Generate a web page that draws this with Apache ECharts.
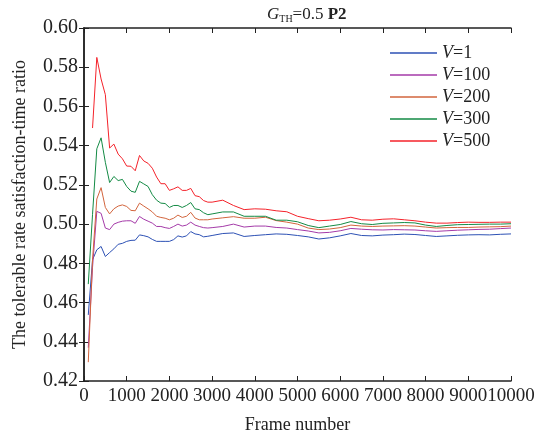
<!DOCTYPE html>
<html>
<head>
<meta charset="utf-8">
<script src="https://cdn.jsdelivr.net/npm/echarts@6/dist/echarts.min.js"></script>
<style>
  html, body { margin: 0; padding: 0; background: #fff; }
  #main { width: 543px; height: 439px; }
</style>
</head>
<body>
<div id="main"></div>
<script>
// frame numbers (x)
var frames = [100, 200, 300, 400, 500, 600, 700, 800, 900, 1000,
  1100, 1200, 1300, 1400, 1500, 1600, 1700, 1800, 1900, 2000,
  2100, 2200, 2300, 2400, 2500, 2600, 2700, 2800, 2900, 3000,
  3250, 3500, 3750, 4000, 4250, 4500, 4750, 5000, 5250, 5500,
  5750, 6000, 6250, 6500, 6750, 7000, 7250, 7500, 7750, 8000,
  8250, 8500, 8750, 9000, 9250, 9500, 9750, 10000];

var v1 = [0.4537, 0.4818, 0.4869, 0.4886, 0.4835, 0.4855, 0.4874, 0.4897, 0.4902, 0.4912,
  0.4917, 0.4918, 0.4945, 0.4941, 0.4935, 0.4922, 0.4912, 0.4912, 0.4912, 0.4912,
  0.4921, 0.4940, 0.4934, 0.4940, 0.4962, 0.4950, 0.4946, 0.4935, 0.4938, 0.4942,
  0.4952, 0.4955, 0.4937, 0.4942, 0.4946, 0.4950, 0.4948, 0.4942, 0.4935, 0.4924,
  0.4930, 0.4940, 0.4952, 0.4942, 0.4940, 0.4944, 0.4946, 0.4949, 0.4947, 0.4942,
  0.4937, 0.4940, 0.4943, 0.4945, 0.4946, 0.4945, 0.4948, 0.4950];

var v100 = [0.4370, 0.4780, 0.5065, 0.5055, 0.4980, 0.4972, 0.5000, 0.5009, 0.5015, 0.5017,
  0.5017, 0.5004, 0.5039, 0.5025, 0.5015, 0.5005, 0.4988, 0.4988, 0.4982, 0.4978,
  0.4988, 0.5000, 0.4990, 0.4995, 0.5010, 0.4995, 0.4988, 0.4982, 0.4980, 0.4982,
  0.4988, 0.5000, 0.4985, 0.4990, 0.4990, 0.4983, 0.4980, 0.4972, 0.4965, 0.4955,
  0.4958, 0.4966, 0.4978, 0.4974, 0.4971, 0.4970, 0.4972, 0.4971, 0.4970, 0.4966,
  0.4963, 0.4966, 0.4969, 0.4971, 0.4973, 0.4974, 0.4977, 0.4980];

var v200 = [0.4296, 0.4820, 0.5128, 0.5186, 0.5085, 0.5052, 0.5078, 0.5092, 0.5098, 0.5090,
  0.5070, 0.5068, 0.5107, 0.5092, 0.5078, 0.5062, 0.5040, 0.5034, 0.5030, 0.5022,
  0.5030, 0.5046, 0.5034, 0.5040, 0.5060, 0.5031, 0.5022, 0.5022, 0.5022, 0.5026,
  0.5032, 0.5038, 0.5030, 0.5030, 0.5035, 0.5018, 0.5010, 0.5000, 0.4980, 0.4972,
  0.4975, 0.4982, 0.4995, 0.4990, 0.4988, 0.4990, 0.4991, 0.4992, 0.4990, 0.4985,
  0.4980, 0.4982, 0.4983, 0.4983, 0.4985, 0.4986, 0.4987, 0.4990];

var v300 = [0.4694, 0.5050, 0.5384, 0.5440, 0.5315, 0.5212, 0.5243, 0.5222, 0.5228, 0.5192,
  0.5168, 0.5162, 0.5218, 0.5205, 0.5192, 0.5150, 0.5122, 0.5107, 0.5105, 0.5085,
  0.5095, 0.5095, 0.5085, 0.5095, 0.5110, 0.5078, 0.5074, 0.5058, 0.5048, 0.5052,
  0.5062, 0.5062, 0.5040, 0.5040, 0.5040, 0.5020, 0.5020, 0.5012, 0.4993, 0.4982,
  0.4990, 0.4998, 0.5013, 0.5002, 0.4998, 0.5004, 0.5006, 0.5008, 0.5006, 0.4995,
  0.4988, 0.4993, 0.4997, 0.4998, 0.4999, 0.5000, 0.5000, 0.5002];

var v500 = [null, 0.5490, 0.5850, 0.5740, 0.5660, 0.5388, 0.5408, 0.5357, 0.5333, 0.5296,
  0.5295, 0.5272, 0.5350, 0.5322, 0.5310, 0.5285, 0.5240, 0.5206, 0.5206, 0.5172,
  0.5180, 0.5190, 0.5172, 0.5172, 0.5182, 0.5145, 0.5140, 0.5120, 0.5112, 0.5112,
  0.5122, 0.5095, 0.5074, 0.5078, 0.5076, 0.5068, 0.5063, 0.5040, 0.5028, 0.5017,
  0.5020, 0.5026, 0.5035, 0.5022, 0.5020, 0.5025, 0.5027, 0.5022, 0.5017, 0.5010,
  0.5005, 0.5005, 0.5008, 0.5010, 0.5009, 0.5009, 0.5010, 0.5010];

var names = ['V=1', 'V=100', 'V=200', 'V=300', 'V=500'];
var colors = ['#2c50b4', '#a43aa8', '#d2643c', '#138a44', '#f4222a'];
var values = [v1, v100, v200, v300, v500];

function pairs(vals) {
  var out = [];
  for (var i = 0; i < frames.length; i++) {
    if (vals[i] != null) out.push([frames[i], vals[i]]);
  }
  return out;
}

var font = 'Liberation Serif';
var myChart = echarts.init(document.getElementById('main'));

var series = [];
for (var k = 0; k < names.length; k++) {
  series.push({
    name: names[k],
    type: 'line',
    data: pairs(values[k]),
    symbol: 'none',
    color: colors[k],
    lineStyle: { width: 1, color: colors[k] }
  });
}

var option = {
  animation: false,
  color: colors,
  title: {
    text: '{g|G}{s|TH}{n|=0.5 }{b|P2}',
    left: 262,
    top: 1,
    textStyle: {
      rich: {
        g: { fontFamily: font, fontSize: 17, fontStyle: 'italic', fontWeight: 'normal', color: '#222' },
        s: { fontFamily: font, fontSize: 10, fontWeight: 'normal', color: '#222', padding: [8, 0, 0, 0] },
        n: { fontFamily: font, fontSize: 17, fontWeight: 'normal', color: '#222' },
        b: { fontFamily: font, fontSize: 17, fontWeight: 'bold', color: '#222' }
      }
    }
  },
  legend: {
    orient: 'vertical',
    left: 385,
    top: 39,
    icon: 'rect',
    itemWidth: 47,
    itemHeight: 1.3,
    itemGap: 4,
    data: names,
    formatter: function (name) {
      return '{i|V}=' + name.split('=')[1];
    },
    textStyle: {
      fontFamily: font,
      fontSize: 18,
      color: '#222',
      rich: {
        i: { fontFamily: font, fontSize: 18, fontStyle: 'italic', color: '#222' }
      }
    }
  },
  grid: { left: 84, right: 32, top: 28, bottom: 56 },
  xAxis: [{
    type: 'value',
    min: 0,
    max: 10000,
    interval: 1000,
    name: 'Frame number',
    nameLocation: 'middle',
    nameGap: 35,
    nameTextStyle: { fontFamily: font, fontSize: 18, color: '#222' },
    axisLine: { lineStyle: { color: '#222', width: 1.5 } },
    axisTick: { inside: true, length: 5, lineStyle: { color: '#222' } },
    axisLabel: {
      fontFamily: font, fontSize: 19, color: '#222', margin: 6,
      hideOverlap: false, showMinLabel: true, showMaxLabel: true,
      formatter: function (v) { return String(v); }
    },
    splitLine: { show: false }
  }, {
    type: 'value',
    position: 'top',
    min: 0,
    max: 10000,
    interval: 1000,
    axisLine: { lineStyle: { color: '#222', width: 1.5 } },
    axisTick: { inside: true, length: 5, lineStyle: { color: '#222' } },
    axisLabel: { show: false },
    splitLine: { show: false }
  }],
  yAxis: [{
    type: 'value',
    min: 0.42,
    max: 0.60,
    interval: 0.02,
    name: 'The tolerable rate satisfaction-time ratio',
    nameLocation: 'middle',
    nameGap: 55,
    nameTextStyle: { fontFamily: font, fontSize: 18, color: '#222' },
    axisLine: { lineStyle: { color: '#222', width: 1.5 } },
    axisTick: { inside: true, length: 5, lineStyle: { color: '#222' } },
    axisLabel: {
      fontFamily: font, fontSize: 20, color: '#222', margin: 6,
      formatter: function (v) { return v.toFixed(2); }
    },
    splitLine: { show: false }
  }, {
    type: 'value',
    position: 'right',
    min: 0.42,
    max: 0.60,
    interval: 0.02,
    axisLine: { lineStyle: { color: '#222', width: 1.5 } },
    axisTick: { inside: true, length: 5, lineStyle: { color: '#222' } },
    axisLabel: { show: false },
    splitLine: { show: false }
  }],
  series: series
};

myChart.setOption(option);
</script>
</body>
</html>
